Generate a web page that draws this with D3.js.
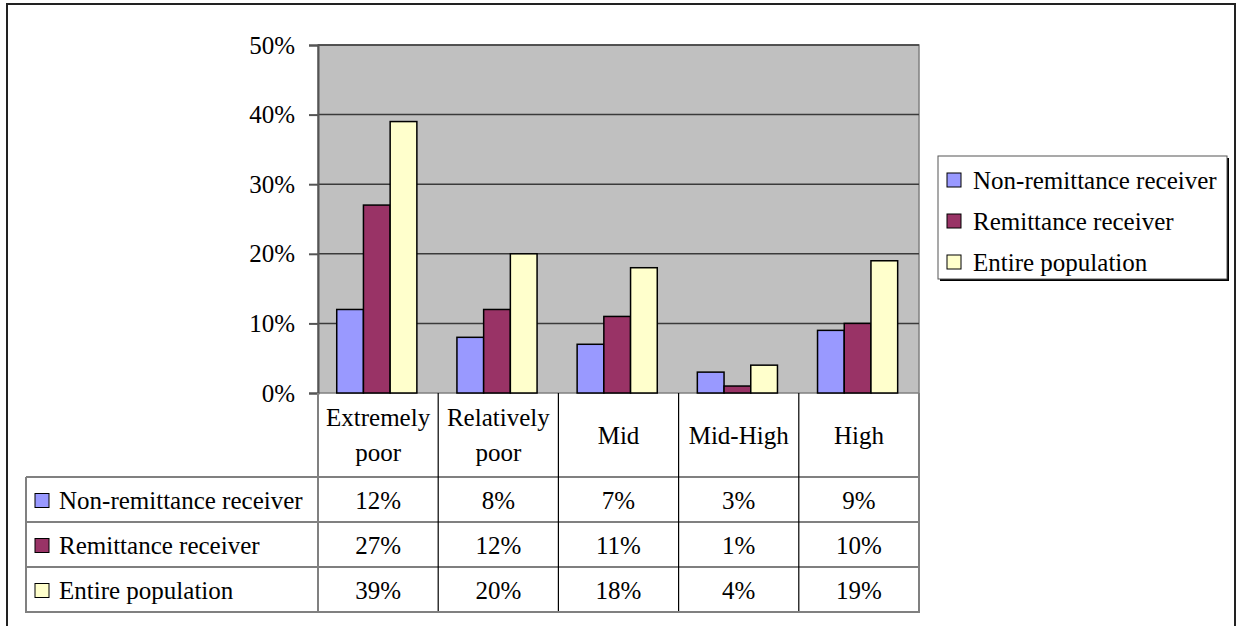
<!DOCTYPE html>
<html>
<head>
<meta charset="utf-8">
<script src="https://cdn.jsdelivr.net/npm/d3@7"></script>
<style>
  body { margin: 0; background: #fff; }
</style>
</head>
<body>
<div id="chart"></div>
<script>
// Data
const categories = ["Extremely poor", "Relatively poor", "Mid", "Mid-High", "High"];
const categoryLines = [["Extremely", "poor"], ["Relatively", "poor"], ["Mid"], ["Mid-High"], ["High"]];
const seriesNames = ["Non-remittance receiver", "Remittance receiver", "Entire population"];
const nonRemittance = [0.12, 0.08, 0.07, 0.03, 0.09];
const remittance = [0.27, 0.12, 0.11, 0.01, 0.10];
const entirePopulation = [0.39, 0.20, 0.18, 0.04, 0.19];
const yTicks = [0, 0.1, 0.2, 0.3, 0.4, 0.5];

const seriesValues = [nonRemittance, remittance, entirePopulation];
const colors = ["#9999FF", "#993366", "#FFFFCC"];

const W = 1236, H = 626;
const plot = { left: 318, right: 919, top: 45, bottom: 393 };
const headerBottom = 477, rowH = 45, tableLeft = 26;
const fontSize = "25px";
const serif = "'Liberation Serif'";

const svg = d3.select("#chart").append("svg")
    .attr("width", W)
    .attr("height", H);

// Outer chart frame
svg.append("rect")
    .attr("x", 7).attr("y", 4)
    .attr("width", 1228).attr("height", 640)
    .attr("fill", "#fff")
    .attr("stroke", "#222")
    .attr("stroke-width", 2);

// Scales
const x = d3.scaleBand()
    .domain(categories)
    .range([plot.left, plot.right])
    .padding(0);

const xSub = d3.scaleBand()
    .domain(seriesNames)
    .range([0, x.bandwidth()])
    .paddingInner(0)
    .paddingOuter(0.75);

const y = d3.scaleLinear()
    .domain([0, 0.5])
    .range([plot.bottom, plot.top]);

// Plot background
svg.append("rect")
    .attr("x", plot.left).attr("y", plot.top)
    .attr("width", plot.right - plot.left)
    .attr("height", plot.bottom - plot.top)
    .attr("fill", "#C0C0C0")
    .attr("stroke", "#808080")
    .attr("stroke-width", 1.5);

// Gridlines
svg.append("g")
    .selectAll("line")
    .data(yTicks.filter(d => d > 0))
    .join("line")
    .attr("x1", plot.left).attr("x2", plot.right)
    .attr("y1", d => y(d)).attr("y2", d => y(d))
    .attr("stroke", "#3a3a3a")
    .attr("stroke-width", 1.5);

// Bars
const groups = svg.append("g")
    .selectAll("g")
    .data(seriesNames)
    .join("g")
    .attr("fill", (d, i) => colors[i]);

groups.selectAll("rect")
    .data((s, si) => categories.map((c, ci) => ({ c, s, v: seriesValues[si][ci] })))
    .join("rect")
    .attr("x", d => x(d.c) + xSub(d.s) - 1.3)
    .attr("y", d => y(d.v))
    .attr("width", xSub.bandwidth())
    .attr("height", d => y(0) - y(d.v))
    .attr("stroke", "#000")
    .attr("stroke-width", 1.5);

// Y axis
const yAxis = svg.append("g")
    .attr("transform", `translate(${plot.left},0)`)
    .call(d3.axisLeft(y)
        .tickValues(yTicks)
        .tickFormat(d3.format(".0%"))
        .tickSize(9)
        .tickPadding(14));
yAxis.select(".domain").attr("stroke", "#555").attr("stroke-width", 2);
yAxis.selectAll(".tick line").attr("stroke", "#555").attr("stroke-width", 2);
yAxis.selectAll(".tick text")
    .style("font-family", serif)
    .style("font-size", fontSize)
    .attr("fill", "#000");

// Data table
const table = svg.append("g");
const tableBottom = headerBottom + rowH * seriesNames.length;

// Row lines
table.selectAll("line.row")
    .data(d3.range(seriesNames.length))
    .join("line")
    .attr("class", "row")
    .attr("x1", tableLeft).attr("x2", plot.right)
    .attr("y1", i => headerBottom + rowH * i)
    .attr("y2", i => headerBottom + rowH * i)
    .attr("stroke", (d, i) => i === 2 ? "#000" : "#808080")
    .attr("stroke-width", (d, i) => i === 2 ? 1.2 : 2);

// Column lines between categories
table.selectAll("line.col")
    .data(categories.slice(1))
    .join("line")
    .attr("class", "col")
    .attr("x1", d => x(d)).attr("x2", d => x(d))
    .attr("y1", plot.bottom).attr("y2", tableBottom)
    .attr("stroke", "#000")
    .attr("stroke-width", 1.2);

// Outer table borders
table.append("path")
    .attr("d", `M${plot.left},${plot.bottom}V${tableBottom}` +
               `M${tableLeft},${headerBottom}V${tableBottom}H${plot.right}V${plot.bottom}`)
    .attr("fill", "none")
    .attr("stroke", "#808080")
    .attr("stroke-width", 2);

// Category labels
const headerMid = (plot.bottom + headerBottom) / 2;
categories.forEach((c, i) => {
    const lines = categoryLines[i];
    const t = table.append("text")
        .attr("x", x(c) + x.bandwidth() / 2)
        .attr("text-anchor", "middle")
        .style("font-family", serif)
        .style("font-size", fontSize);
    lines.forEach((ln, k) => {
        t.append("tspan")
            .attr("x", x(c) + x.bandwidth() / 2)
            .attr("y", headerMid + (k - (lines.length - 1) / 2) * 35)
            .attr("dy", "0.35em")
            .text(ln);
    });
});

// Series rows: key, name, values
seriesNames.forEach((s, si) => {
    const cy = headerBottom + rowH * si + rowH / 2 + 1;
    table.append("rect")
        .attr("x", 35).attr("y", cy - 7)
        .attr("width", 14).attr("height", 14)
        .attr("fill", colors[si])
        .attr("stroke", "#000")
        .attr("stroke-width", 1);
    table.append("text")
        .attr("x", 59).attr("y", cy)
        .attr("dy", "0.35em")
        .style("font-family", serif)
        .style("font-size", fontSize)
        .text(s);
    table.selectAll(null)
        .data(seriesValues[si])
        .join("text")
        .attr("x", (d, ci) => x(categories[ci]) + x.bandwidth() / 2)
        .attr("y", cy)
        .attr("dy", "0.35em")
        .attr("text-anchor", "middle")
        .style("font-family", serif)
        .style("font-size", fontSize)
        .text(d => d3.format(".0%")(d));
});

// Legend
const legend = svg.append("g").attr("transform", "translate(938,156)");
legend.append("rect")
    .attr("x", 2).attr("y", 2)
    .attr("width", 289).attr("height", 123)
    .attr("fill", "#000");
legend.append("rect")
    .attr("width", 289).attr("height", 123)
    .attr("fill", "#fff")
    .attr("stroke", "#555")
    .attr("stroke-width", 1);
seriesNames.forEach((s, i) => {
    const cy = 24 + i * 41;
    legend.append("rect")
        .attr("x", 9).attr("y", cy - 7)
        .attr("width", 14).attr("height", 14)
        .attr("fill", colors[i])
        .attr("stroke", "#000")
        .attr("stroke-width", 1);
    legend.append("text")
        .attr("x", 35).attr("y", cy)
        .attr("dy", "0.35em")
        .style("font-family", serif)
        .style("font-size", fontSize)
        .text(s);
});
</script>
</body>
</html>
